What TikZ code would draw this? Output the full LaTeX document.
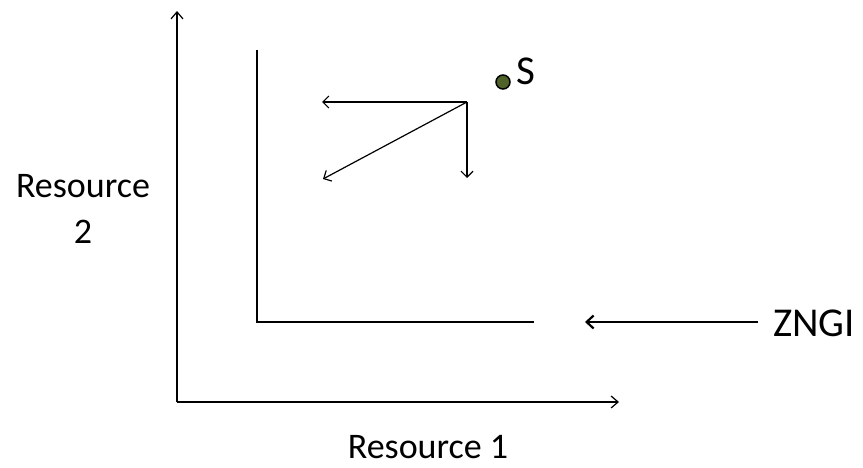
\documentclass[tikz,border=0pt]{standalone}
\usepackage{fontspec}
\setmainfont{Carlito}
\usetikzlibrary{arrows.meta}
\definecolor{dotgreen}{HTML}{4F6228}
\begin{document}
\begin{tikzpicture}[x=1pt,y=-1pt,
  axis/.style={line width=1.2pt,-{Straight Barb[length=7pt,width=12pt]}},
  vec/.style={line width=1.2pt,-{Straight Barb[length=6pt,width=12pt]}},
  zarrow/.style={line width=2.2pt,-{Straight Barb[length=7pt,width=13pt]}},
  lbl/.style={font=\fontsize{36}{46}\selectfont,inner sep=0pt},
  biglbl/.style={font=\fontsize{41}{49}\selectfont,inner sep=0pt}]
\useasboundingbox (0,0) rectangle (863,468);
% axes
\coordinate (O) at (177,402);
\coordinate (ytop) at (177,11);
\coordinate (xend) at (619,402);
\draw[axis] (O) -- (ytop);
\draw[axis] (O) -- (xend);
% ZNGI
\coordinate (z1) at (257,50);
\coordinate (zc) at (257,322);
\coordinate (z2) at (534,322);
\draw[line width=1.2pt] (z1) -- (zc) -- (z2);
% vectors
\coordinate (P) at (467,102);
\coordinate (pl) at (322,102);
\coordinate (pd) at (467,178);
\coordinate (pg) at (323,179);
\draw[vec] (P) -- (pl);
\draw[vec] (P) -- (pd);
\draw[vec] (P) -- (pg);
% supply point
\node[circle,draw=black,line width=1.5pt,fill=dotgreen,minimum size=14pt,inner sep=0pt] (S) at (503,82) {};
\node[biglbl,anchor=west] (Slbl) at (516,71) {S};
% ZNGI label
\node[biglbl,anchor=west] (zn) at (773,323) {ZNGI};
\coordinate (zs) at (758,322);
\coordinate (ze) at (585,322);
\draw[zarrow] (zs) -- (ze);
% axis labels
\node[lbl,align=center] (r2) at (83,209) {Resource\\2};
\node[lbl] (r1) at (428,447) {Resource 1};
\end{tikzpicture}
\end{document}
